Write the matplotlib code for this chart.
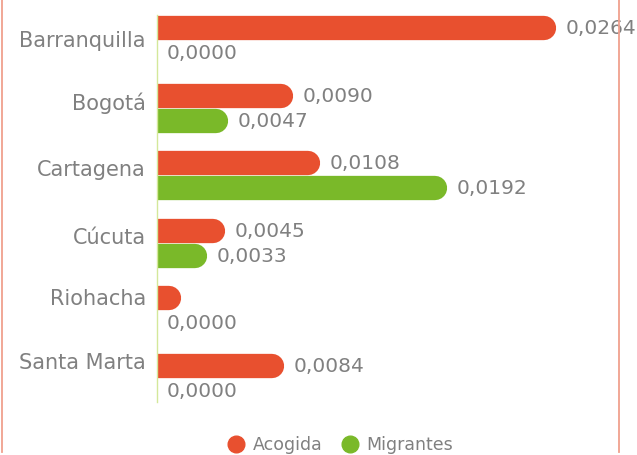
import matplotlib.pyplot as plt
from matplotlib.transforms import ScaledTranslation
from matplotlib.lines import Line2D

# Data
cities = ["Barranquilla", "Bogotá", "Cartagena", "Cúcuta", "Riohacha", "Santa Marta"]
acogida = [0.0264, 0.0090, 0.0108, 0.0045, 0.0016, 0.0084]
migrantes = [0.0000, 0.0047, 0.0192, 0.0033, 0.0000, 0.0000]
acogida_labels = ["0,0264", "0,0090", "0,0108", "0,0045", "", "0,0084"]
migrantes_labels = ["0,0000", "0,0047", "0,0192", "0,0033", "0,0000", "0,0000"]

red = "#E8502F"
green = "#7AB929"
grey = "#808080"
font = "DejaVu Sans"

fig = plt.figure(figsize=(6.37, 4.55), dpi=100)
ax = fig.add_axes([157 / 637, 53 / 455, (620 - 157) / 637, 387 / 455])

bar_pt = 17.5  # bar thickness in points
r = bar_pt / 2 / 72  # cap radius, inches
shift = ScaledTranslation(-r, 0, fig.dpi_scale_trans)


def draw_bars(values, labels, offset, color):
    for i, (v, lab) in enumerate(zip(values, labels)):
        y = i + offset
        if v > 0:
            # round-capped line, shifted so the cap ends exactly at the value
            ax.plot([0, v], [y, y], color=color, lw=bar_pt,
                    solid_capstyle="round", transform=ax.transData + shift,
                    clip_on=True)
        if lab:
            ax.annotate(lab, (v, y), xytext=(7, -0.5), textcoords="offset points",
                        va="center", ha="left", color=grey, fontsize=14.5,
                        family=font, annotation_clip=False)


draw_bars(acogida, acogida_labels, -0.185, red)
draw_bars(migrantes, migrantes_labels, 0.185, green)

ax.set_xlim(0, 0.0264 * 463 / 399)
ax.set_ylim(5.35, -0.378)

# category labels sit a little above the middle of each group, as in the source
label_shift = [-0.03, -0.1, -0.11, -0.1, -0.2, -0.25]
ax.set_yticks([i + d for i, d in enumerate(label_shift)])
ax.set_yticklabels(cities, family=font, fontsize=15, color=grey)
ax.tick_params(axis="y", length=0, pad=8)
ax.set_xticks([])
for s in ["top", "right", "bottom"]:
    ax.spines[s].set_visible(False)
ax.spines["left"].set_color("#D4E89A")
ax.spines["left"].set_linewidth(1)

# legend
handles = [Line2D([], [], marker="o", ls="", color=red, markersize=12),
           Line2D([], [], marker="o", ls="", color=green, markersize=12)]
fig.legend(handles, ["Acogida", "Migrantes"], loc="center",
           bbox_to_anchor=(0.5345, 0.022), ncol=2, frameon=False,
           handlelength=1.0, handletextpad=0.44, columnspacing=1.1,
           prop={"family": font, "size": 12.5}, labelcolor=grey)

# side border lines
fig.add_artist(Line2D([2 / 637, 2 / 637], [3 / 455, 1], color="#F0A08E", lw=1.3))
fig.add_artist(Line2D([619 / 637, 619 / 637], [3 / 455, 1], color="#F0A08E", lw=1.3))

fig.savefig("out.png", dpi=100)
